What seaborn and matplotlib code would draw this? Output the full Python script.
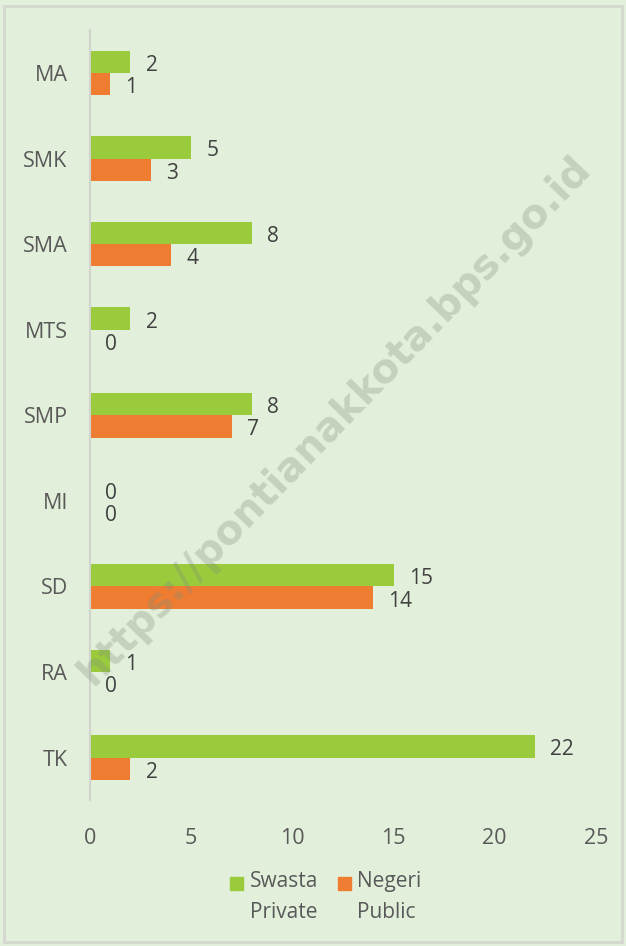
import numpy as np
import pandas as pd
import matplotlib
matplotlib.use("Agg")
import matplotlib.pyplot as plt
import seaborn as sns
from matplotlib.patches import Rectangle

categories = ["MA", "SMK", "SMA", "MTS", "SMP", "MI", "SD", "RA", "TK"]
swasta = [2, 5, 8, 2, 8, 0, 15, 1, 22]
negeri = [1, 3, 4, 0, 7, 0, 14, 0, 2]
series = ["Swasta\nPrivate", "Negeri\nPublic"]

bg = "#e2efda"
text_col = "#595959"
colors = ["#9acb3c", "#ef7d31"]

df = pd.DataFrame({
    "cat": categories * 2,
    "val": swasta + negeri,
    "ser": [series[0]] * len(categories) + [series[1]] * len(categories),
})

sns.set_style("white")
plt.rcParams["font.family"] = ["Open Sans", "DejaVu Sans"]

W, H = 626, 946
fig = plt.figure(figsize=(W / 100, H / 100), dpi=100, facecolor=bg)
ax = fig.add_axes([0.1438, 0.154, 0.808, 0.814])
ax.set_facecolor(bg)

sns.barplot(data=df, y="cat", x="val", hue="ser", order=categories,
            hue_order=series, palette=colors, width=0.52, orient="h",
            saturation=1, linewidth=0, ax=ax, legend=False)

for cont in ax.containers:
    for ann in ax.bar_label(cont, padding=11, fontsize=15, color="#404040"):
        ann.xyann = (11, -2.5)

ax.set_xlim(0, 25)
ax.set_xticks([0, 5, 10, 15, 20, 25])
ax.set_xlabel("")
ax.set_ylabel("")
ax.tick_params(axis="both", length=0, labelsize=15.5, labelcolor=text_col)
ax.tick_params(axis="x", pad=20)
ax.tick_params(axis="y", pad=16)
for side in ["top", "right", "bottom"]:
    ax.spines[side].set_visible(False)
ax.spines["left"].set_color("#d0d4cc")
ax.spines["left"].set_linewidth(1.5)

# legend drawn by hand: square next to the first line of a two-line label
for (x0, tx), c, s in zip([(230, 250), (338, 357)], colors, series):
    fig.patches.append(Rectangle((x0 / W, 1 - 890 / H), 13 / W, 13 / H,
                                 transform=fig.transFigure, color=c))
    fig.text(tx / W, 1 - 871 / H, s, ha="left", va="top", fontsize=15,
             color=text_col, linespacing=1.6)

fig.text(0.535, 0.555, "https://pontianakkota.bps.go.id", rotation=46,
         ha="center", va="center", fontsize=29, fontweight="bold",
         color="#7f8c7a", alpha=0.3, family="DejaVu Sans")

fig.patches.append(Rectangle((0.006, 0.004), 0.988, 0.99, transform=fig.transFigure,
                             fill=False, edgecolor="#d4d8d0", linewidth=2))

fig.savefig("out.png", dpi=100, facecolor=bg)
